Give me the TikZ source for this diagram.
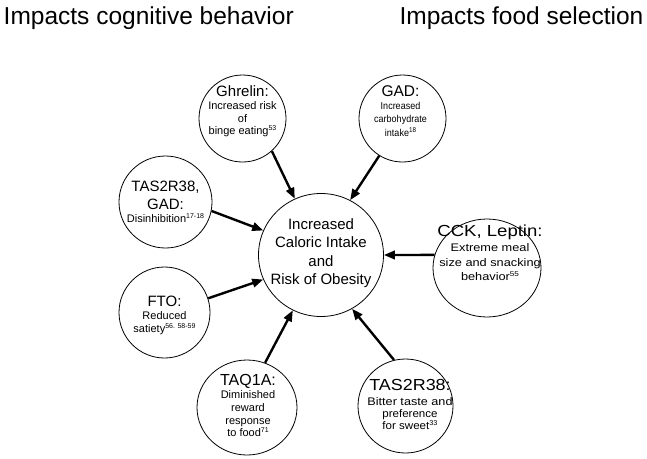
\documentclass[tikz,border=0pt]{standalone}
\usepackage{fontspec}
\setmainfont{Liberation Sans}
\usepackage{graphicx}
\usetikzlibrary{arrows.meta,shapes.geometric}
\newcommand\supr[1]{\raisebox{4pt}{\fontsize{7}{7}\selectfont #1}}
\newcommand\hd[2]{{\fontsize{#1}{13}\selectfont #2}}
\newcommand\xs[2]{\scalebox{#1}[1]{#2}}
\tikzset{
  bubble/.style={draw, ellipse, line width=0.8pt, inner sep=0pt},
  txt/.style={anchor=north, inner sep=0pt, align=center, font=\fontsize{11}{13}\selectfont},
  arr/.style={line width=2.4pt, -{Triangle[length=11pt,width=8.5pt]}},
  ttl/.style={inner sep=0pt, font=\fontsize{24.5}{28}\selectfont}
}
\begin{document}
\begin{tikzpicture}[x=1pt,y=-1pt]
\useasboundingbox (0,0) rectangle (647,458);
% titles
\node[ttl, anchor=base west] (t1) at (3.5,24) {Impacts cognitive behavior};
\node[ttl, anchor=base east] (t2) at (643.5,24) {Impacts food selection};
% circles
\node[bubble, minimum width=125pt, minimum height=123pt] (obes) at (321,255) {};
\node[bubble, minimum width=87pt, minimum height=87pt] (ghrelin) at (242.5,118.5) {};
\node[bubble, minimum width=87pt, minimum height=87pt] (gad) at (402.5,118.5) {};
\node[bubble, minimum width=93pt, minimum height=92pt] (tasgad) at (165.5,202) {};
\node[bubble, minimum width=91pt, minimum height=91pt] (fto) at (164.5,312.5) {};
\node[bubble, minimum width=108pt, minimum height=98pt] (cck) at (487,268) {};
\node[bubble, minimum width=100pt, minimum height=95pt] (taq) at (247,407.5) {};
\node[bubble, minimum width=95pt, minimum height=94pt] (tasb) at (405.5,406) {};
% texts
\node[txt, font=\fontsize{15}{18.2}\selectfont] (obesT) at (321,218.6) {Increased\\Caloric Intake\\and\\Risk of Obesity};
\node[txt, font=\fontsize{11}{12.7}\selectfont] (ghrelinT) at (242.5,85.8) {\hd{15}{Ghrelin:}\\Increased risk\\of\\binge eating\supr{53}};
\node[txt, font=\fontsize{10}{13.2}\selectfont] (gadT) at (400.5,85.4) {\hd{15.5}{GAD:}\\\xs{0.9}{Increased}\\\xs{0.9}{carbohydrate}\\\xs{0.9}{intake\supr{18}}};
\node[txt, font=\fontsize{11}{13.3}\selectfont] (tasgadT) at (165.5,180.7) {\hd{15}{TAS2R38,}\\[5pt]\hd{15}{GAD:}\\Disinhibition\supr{17-18}};
\node[txt, font=\fontsize{11}{13}\selectfont] (ftoT) at (164.5,295.7) {\hd{15}{FTO:}\\Reduced\\satiety\supr{56. 58-59}};
\node[txt, font=\fontsize{11}{14.3}\selectfont] (cckT) at (490,225) {\xs{1.16}{\hd{16}{CCK, Leptin:}}\\[0.7pt]\xs{1.16}{Extreme meal}\\\xs{1.16}{size and snacking}\\\xs{1.16}{behavior\supr{55}}};
\node[txt, font=\fontsize{11}{12.6}\selectfont] (taqT) at (248,374.3) {\hd{16}{TAQ1A:}\\[0.7pt]Diminished\\reward\\response\\to food\supr{71}};
\node[txt, font=\fontsize{11}{12.2}\selectfont] (tasbT) at (410,379) {\xs{1.12}{\hd{16}{TAS2R38:}}\\[3pt]\xs{1.15}{Bitter taste and}\\\xs{1.05}{preference}\\\xs{1.05}{for sweet\supr{33}}};
% arrows
\draw[arr] (ghrelin.-48) -- (obes.115);
\draw[arr] (gad.-122) -- (obes.62);
\draw[arr] (tasgad.-11) -- (obes.157);
\draw[arr] (cck.166) -- (obes.0);
\draw[arr] (fto.18.5) -- (obes.-157.5);
\draw[arr] (taq.68) -- (obes.-117);
\draw[arr] (tasb.104) -- (obes.-60);
\end{tikzpicture}
\end{document}
